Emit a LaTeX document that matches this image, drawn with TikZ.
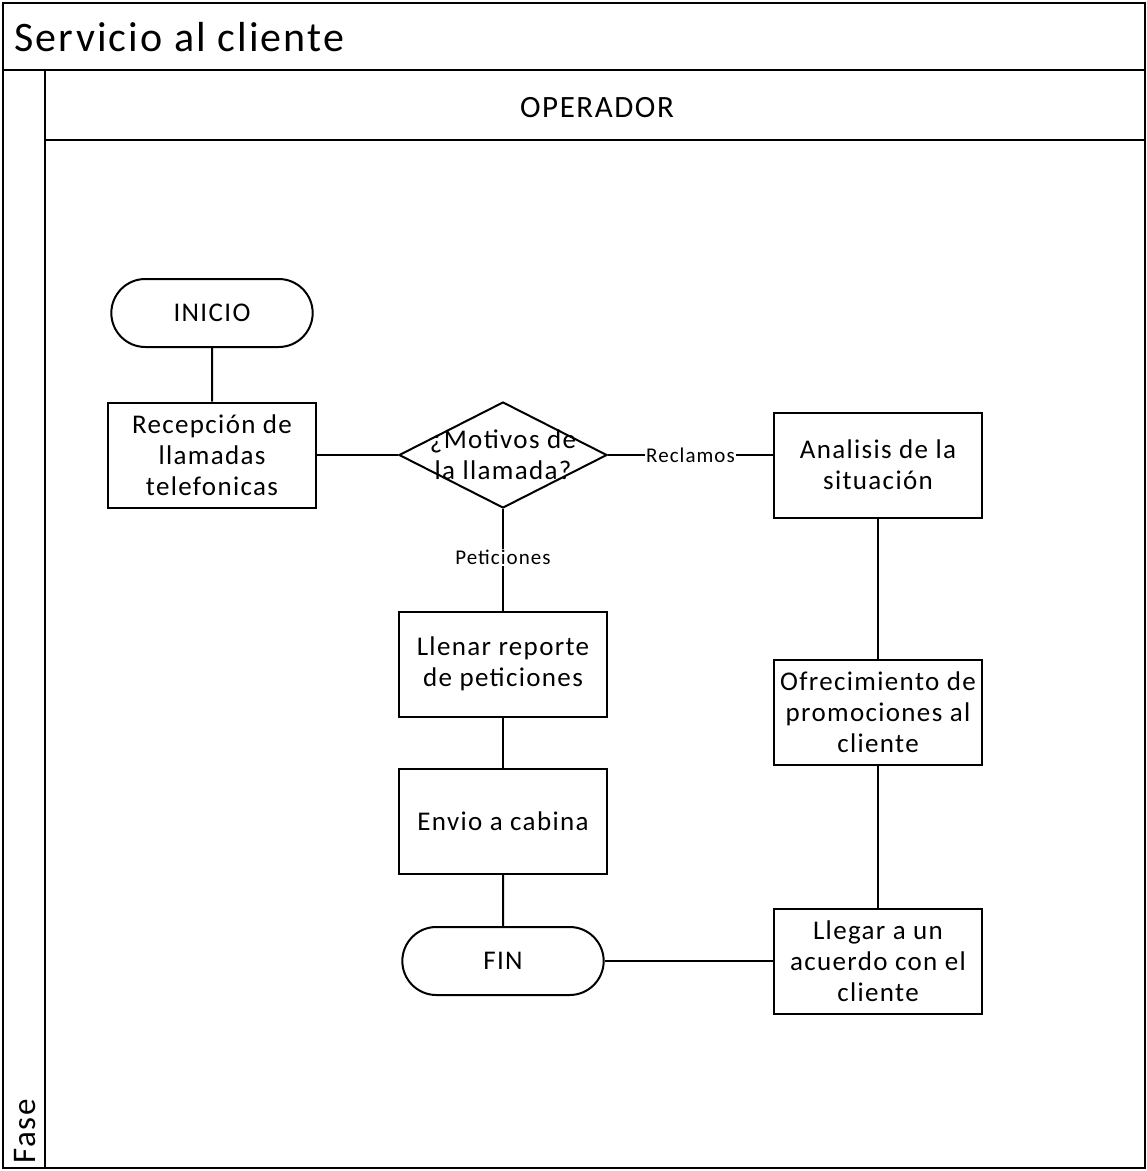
\documentclass[tikz,border=0pt]{standalone}
\usepackage{fontspec}
\setmainfont{Carlito}[LetterSpace=5]
\usetikzlibrary{shapes.geometric, shapes.misc, positioning}

\tikzset{
  proc/.style={draw, line width=2pt, minimum width=208pt, minimum height=105pt, align=center, font=\fontsize{27}{31}\selectfont},
  term/.style={draw, line width=2pt, rounded rectangle, minimum width=208pt, minimum height=68pt, font=\fontsize{27}{31}\selectfont},
  decision/.style={draw, line width=2pt, diamond, minimum width=208pt, minimum height=106pt, inner sep=0pt},
  link/.style={line width=2pt},
  lbl/.style={fill=white, inner sep=1pt, font=\fontsize{21}{24}\selectfont}
}

\begin{document}
\begin{tikzpicture}[x=1pt, y=-1pt]
  \useasboundingbox (0,0) rectangle (1147,1171);

  % Pool and lane
  \draw[line width=2pt] (3,3) rectangle (1145,1168);
  \draw[line width=2pt] (3,70) -- (1145,70);
  \draw[line width=2pt] (45,70) -- (45,1168);
  \draw[line width=2pt] (45,140) -- (1145,140);
  \node[anchor=west, font=\fontsize{42}{44}\selectfont] (titulo) at (11,37) {Servicio al cliente};
  \node[font=\fontsize{31}{34}\selectfont] (carril) at (597,108) {OPERADOR};
  \node[rotate=90, anchor=west, inner sep=0pt, font=\fontsize{33}{36}\selectfont] (fase) at (25,1164) {Fase};

  % Left branch
  \node[term] (inicio) at (212,313) {INICIO};
  \node[proc] (recep) at (212,455) {Recepción de\\llamadas\\telefonicas};
  \node[decision] (motivo) at (503,455) {};
  \node[font=\fontsize{27}{31}\selectfont, align=center] (motivotxt) at (motivo) {¿Motivos de\\la llamada?};

  % Peticiones branch
  \node[proc] (llenar) at (503,664) {Llenar reporte\\de peticiones};
  \node[proc] (envio) at (503,821) {Envio a cabina};
  \node[term] (fin) at (503,961) {FIN};

  % Reclamos branch
  \node[proc] (analisis) at (878,465) {Analisis de la\\situación};
  \node[proc] (ofrec) at (878,712) {Ofrecimiento de\\promociones al\\cliente};
  \node[proc] (acuerdo) at (878,961) {Llegar a un\\acuerdo con el\\cliente};

  % Connectors
  \draw[link] (inicio) -- (recep);
  \draw[link] (recep) -- (motivo);
  \draw[link] (motivo.east) -- node[lbl] {Reclamos} (motivo.east -| analisis.west);
  \draw[link] (motivo.south) -- node[lbl, pos=0.48] {Peticiones} (llenar.north);
  \draw[link] (llenar) -- (envio);
  \draw[link] (envio) -- (fin);
  \draw[link] (analisis) -- (ofrec);
  \draw[link] (ofrec) -- (acuerdo);
  \draw[link] (fin.east) -- (fin.east -| acuerdo.west);
\end{tikzpicture}
\end{document}
